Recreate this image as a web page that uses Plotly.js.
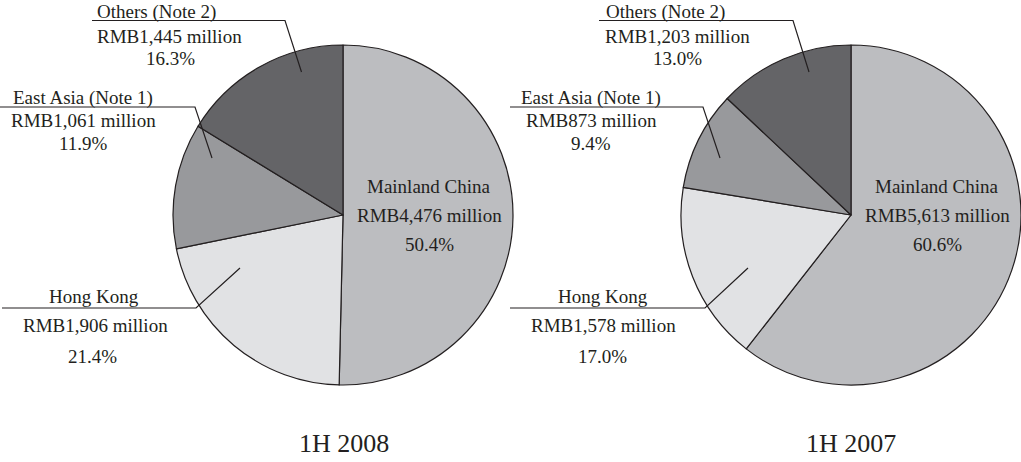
<!DOCTYPE html>
<html>
<head>
<meta charset="utf-8">
<script src="https://cdn.plot.ly/plotly-3.0.1.min.js"></script>
<style>html,body{margin:0;padding:0;background:#fff;}#chart{width:1021px;height:462px;}</style>
</head>
<body>
<div id="chart"></div>
<script>
// ---- data ----
const categories = ["Mainland China", "Hong Kong", "East Asia (Note 1)", "Others (Note 2)"];
const periods = ["1H 2008", "1H 2007"];
const values2008 = [4476, 1906, 1061, 1445];     // RMB million
const values2007 = [5613, 1578, 873, 1203];      // RMB million
const percents2008 = ["50.4%", "21.4%", "11.9%", "16.3%"];
const percents2007 = ["60.6%", "17.0%", "9.4%", "13.0%"];

// ---- styling ----
const W = 1021, H = 462;
const sliceColors = ["#bcbdc0", "#e1e2e4", "#98999c", "#646467"];
const ink = "#231f20";
const FONT = "Liberation Serif, Times New Roman, serif";
const px = x => x / W;
const py = y => 1 - y / H;

function fmtRMB(v) { return "RMB" + v.toLocaleString("en-US") + " million"; }

function pieTrace(values, dom) {
  return {
    type: "pie",
    labels: categories,
    values: values,
    sort: false,
    direction: "clockwise",
    rotation: 0,
    textinfo: "none",
    hoverinfo: "none",
    showlegend: false,
    marker: { colors: sliceColors, line: { color: ink, width: 1.2 } },
    domain: dom
  };
}

const data = [
  pieTrace(values2008, { x: [px(173), px(513)], y: [py(385), py(45)] }),
  pieTrace(values2007, { x: [px(681), px(1021)], y: [py(385), py(45)] })
];

// label layout: [category index, line positions (center x, middle y) for 3 lines]
const labelPos = [
  // 1H 2008
  [
    { i: 0, pts: [[429, 185], [429, 214], [429, 243]] },
    { i: 1, pts: [[94, 295], [95, 324], [92, 355]] },
    { i: 2, pts: [[83, 97], [83, 120], [83, 142]] },
    { i: 3, pts: [[156, 11], [169, 35], [170, 58]] }
  ],
  // 1H 2007
  [
    { i: 0, pts: [[937, 185], [937, 214], [937, 243]] },
    { i: 1, pts: [[603, 295], [603, 324], [602, 355]] },
    { i: 2, pts: [[591, 97], [591, 120], [591, 142]] },
    { i: 3, pts: [[665, 11], [677, 35], [677, 58]] }
  ]
];

const valueSets = [values2008, values2007];
const pctSets = [percents2008, percents2007];

const annotations = [];
labelPos.forEach((set, k) => {
  set.forEach(l => {
    const texts = [categories[l.i], fmtRMB(valueSets[k][l.i]), pctSets[k][l.i]];
    texts.forEach((t, j) => {
      annotations.push({
        xref: "paper", yref: "paper",
        x: px(l.pts[j][0]), y: py(l.pts[j][1] + 1),
        xanchor: "center", yanchor: "middle",
        text: t, showarrow: false,
        font: { family: FONT, size: 19, color: ink }
      });
    });
  });
});

// period captions
[[344, 443], [851, 443]].forEach((p, k) => {
  annotations.push({
    xref: "paper", yref: "paper",
    x: px(p[0]), y: py(p[1]),
    xanchor: "center", yanchor: "middle",
    text: periods[k], showarrow: false,
    font: { family: FONT, size: 26, color: ink }
  });
});

// leader lines (underline + pointer), pixel coordinates
const leaders = [
  [[92, 20.5], [285, 20.5], [301.5, 72]],
  [[0, 107], [195, 107], [212, 158]],
  [[2, 308], [196, 308], [240, 268]],
  [[599, 20.5], [793, 20.5], [809, 72]],
  [[510, 107], [703, 107], [720, 158]],
  [[510, 308], [705, 308], [748, 268]]
];
const shapes = leaders.map(pts => ({
  type: "path",
  xref: "paper", yref: "paper",
  path: "M" + pts.map(p => px(p[0]) + "," + py(p[1])).join(" L"),
  line: { color: ink, width: 1.2 }
}));

const layout = {
  width: W, height: H,
  margin: { l: 0, r: 0, t: 0, b: 0, pad: 0 },
  paper_bgcolor: "#ffffff",
  plot_bgcolor: "#ffffff",
  showlegend: false,
  annotations: annotations,
  shapes: shapes
};

Plotly.newPlot("chart", data, layout, { displayModeBar: false, staticPlot: true });
</script>
</body>
</html>
